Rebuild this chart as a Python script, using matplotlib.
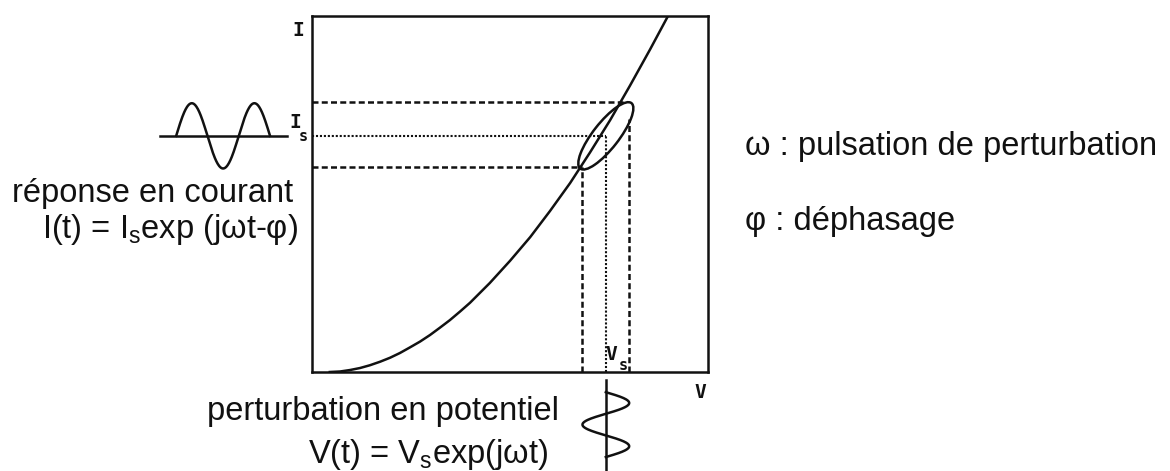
import numpy as np
import matplotlib.pyplot as plt
from matplotlib.patches import Ellipse

plt.rcParams['font.family'] = ['Liberation Sans', 'DejaVu Sans']
plt.rcParams['mathtext.fontset'] = 'custom'
plt.rcParams['mathtext.rm'] = 'Liberation Sans'

W, H = 1170, 471

# caracteristique courant-tension I = f(V)
V_curve = [4.5, 7.1, 9.6, 12.1, 14.6, 17.2, 19.7, 22.2, 24.7, 27.3,
           29.8, 32.3, 34.8, 37.4, 39.9, 44.9, 50.0, 55.1, 60.1, 65.2,
           70.2, 75.3, 80.3, 85.4, 89.9]
I_curve = [0.0, 0.13, 0.5, 1.0, 1.7, 2.6, 3.6, 4.8, 6.2, 7.7,
           9.35, 11.2, 13.1, 15.3, 17.5, 22.5, 28.1, 34.1, 40.7, 47.8,
           55.5, 63.7, 72.4, 81.6, 90.0]

# point de fonctionnement stationnaire
Vs, Is = 74.2, 59.7
# bornes de la perturbation
V_lo, V_hi = 68.2, 80.0
I_lo, I_hi = 51.8, 68.3

ink = '#111111'
lw = 1.8
dash = [2.4, 1.3]
dot = [1.0, 0.9]

fig = plt.figure(figsize=(W / 100, H / 100), dpi=100)
ax = fig.add_axes([312 / W, 99 / H, 396 / W, 356 / H])
ax.set_xlim(0, 100)
ax.set_ylim(0, 90)
ax.set_xticks([])
ax.set_yticks([])
for s in ax.spines.values():
    s.set_linewidth(lw)
    s.set_color(ink)

ax.plot(V_curve, I_curve, color=ink, lw=lw, solid_joinstyle='round')

# lignes de projection
ax.plot([0, 78.5], [I_hi, I_hi], color=ink, lw=lw, dashes=dash)
ax.plot([0, V_lo], [I_lo, I_lo], color=ink, lw=lw, dashes=dash)
ax.plot([V_lo, V_lo], [0, I_lo], color=ink, lw=lw, dashes=dash)
ax.plot([V_hi, V_hi], [0, 64], color=ink, lw=lw, dashes=dash)
ax.plot([0, Vs], [Is, Is], color=ink, lw=1.5, dashes=dot)
ax.plot([Vs, Vs], [0, Is], color=ink, lw=1.5, dashes=dot)

# ellipse de Lissajous
ax.add_patch(Ellipse((Vs, Is), width=21, height=6.5, angle=52,
                     fill=False, edgecolor=ink, lw=lw))

# reponse en courant (sinusoide a gauche)
ax.plot([-38.4, -6.3], [Is, Is], color=ink, lw=lw, clip_on=False)
t = np.linspace(0, 3 * np.pi, 200)
amp_I = (I_hi - I_lo) / 2
ax.plot(-34.3 + 23.7 * t / (3 * np.pi), Is + amp_I * np.sin(t),
        color=ink, lw=lw, clip_on=False)

# perturbation en potentiel (sinusoide sous l'axe)
ax.plot([Vs, Vs], [-2.0, -26], color=ink, lw=lw, clip_on=False)
amp_V = (V_hi - V_lo) / 2
ax.plot(Vs + amp_V * np.sin(t), -5.1 - 16.4 * t / (3 * np.pi),
        color=ink, lw=lw, clip_on=False)


def px(x, y):
    return x / W, 1 - y / H


fs = 23.5
fig.text(*px(293, 202), 'réponse en courant', ha='right', va='baseline',
         fontsize=fs, color=ink)
fig.text(*px(298, 238), r'I(t) = I$_\mathregular{s}$exp (jωt-φ)',
         ha='right', va='baseline', fontsize=fs, color=ink)
fig.text(*px(207, 420), 'perturbation en potentiel', ha='left',
         va='baseline', fontsize=fs, color=ink)
fig.text(*px(308, 463), r'V(t) = V$_\mathregular{s}$exp(jωt)', ha='left',
         va='baseline', fontsize=fs, color=ink)
fig.text(*px(745, 155), 'ω : pulsation de perturbation', ha='left',
         va='baseline', fontsize=fs, color=ink)
fig.text(*px(745, 230), 'φ : déphasage', ha='left', va='baseline',
         fontsize=fs, color=ink)

# etiquettes des axes
mono = 'DejaVu Sans Mono'
lab = dict(ha='center', va='center', family=mono, color=ink,
           fontweight='bold')
fig.text(*px(298, 31), 'I', fontsize=14, **lab)
fig.text(*px(295, 123), 'I', fontsize=14, **lab)
fig.text(*px(303, 137), 's', fontsize=11, **lab)
fig.text(*px(611, 355), 'V', fontsize=14, **lab)
fig.text(*px(623, 366), 's', fontsize=11, **lab)
fig.text(*px(700, 392), 'V', fontsize=14, **lab)

fig.savefig('out.png', dpi=100, facecolor='white')
